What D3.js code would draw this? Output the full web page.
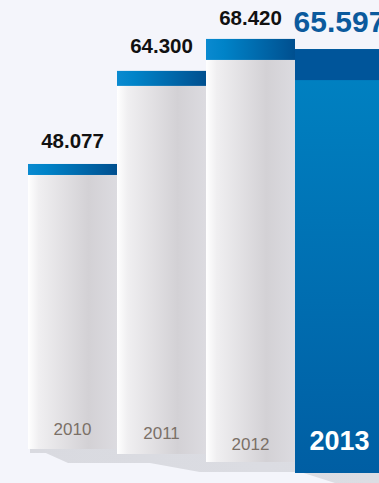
<!DOCTYPE html>
<html>
<head>
	<meta charset="utf-8">
	<script src="https://cdnjs.cloudflare.com/ajax/libs/d3/7.8.5/d3.min.js" charset="utf-8"></script>
	<style>
		body {
		  margin: 0;
		  background: #f4f5fb;
		  font-family: 'Liberation Sans', Arial, sans-serif;
		}
		.value { font-weight: bold; text-anchor: middle; fill: #111; }
		.year { text-anchor: middle; fill: #7b7067; }
	</style>
</head>
<body>
<div id="chart"></div>
<script>

//Data
var years = ["2010", "2011", "2012", "2013"];
var values = [48.077, 64.300, 68.420, 65.597];
var labels = ["48.077", "64.300", "68.420", "65.597"];

//Perspective layout (each bar stands a little nearer than the last)
var baseY = [449, 454, 462, 473],
    depth = [1, 1.005, 1.043, 1.09],
    capH = [11, 15, 21, 31],
    valueGap = [16, 18, 14, 17],
    yearGap = [14, 15, 12, 23];

var width = 379, height = 483;

var svg = d3.select("#chart")
	.append("svg")
	.attr("width", width)
	.attr("height", height)
	.style("display", "block");

///////////////////////////////////////////////////
////////////////// Scales /////////////////////////
///////////////////////////////////////////////////

var x = d3.scaleBand()
	.domain(years)
	.range([28, 28 + 4 * 89])
	.padding(0);

var h = d3.scaleLinear()
	.domain([0, 70])
	.range([0, 415]);

function barTop(i) { return baseY[i] - h(values[i]) * depth[i]; }

///////////////////////////////////////////////////
//////////////// Gradients ////////////////////////
///////////////////////////////////////////////////

var defs = svg.append("defs");

function grad(id, x2, y2, stops) {
	defs.append("linearGradient")
		.attr("id", id)
		.attr("x1", "0%").attr("y1", "0%")
		.attr("x2", x2).attr("y2", y2)
		.selectAll("stop")
		.data(stops)
		.enter().append("stop")
		.attr("offset", function(d) { return d[0]; })
		.attr("stop-color", function(d) { return d[1]; });
}

grad("body", "100%", "0%", [["0%", "#ffffff"], ["12%", "#f0eff1"], ["68%", "#d3d1d5"], ["100%", "#dcdbe0"]]);
grad("cap", "100%", "0%", [["0%", "#0a8ad0"], ["20%", "#0083c8"], ["100%", "#004f8f"]]);
grad("blue", "0%", "100%", [["0%", "#0083c3"], ["100%", "#005ea3"]]);
grad("shade", "100%", "0%", [["0%", "#d9dae0"], ["100%", "#dcdde3"]]);

///////////////////////////////////////////////////
////////////////// Floor shadow ///////////////////
///////////////////////////////////////////////////

var bw = x.bandwidth();
var slant = [[0.2, 0.45], [0.37, 0.93], [1.06, 1.45]];
var pts = [[x(years[0]) + 2, baseY[0]], [x(years[0]) + 2, baseY[0] + 4]];
var level = baseY[0] + 4;
for (var i = 0; i < 3; i++) {
	var x0 = x(years[i]);
	var floor = baseY[i + 1] + (i == 0 ? 9 : 10);
	if (i == 2) floor = height;
	pts.push([x0 + slant[i][0] * bw, level]);
	pts.push([x0 + slant[i][1] * bw, floor]);
	level = floor;
}
pts.push([width, height], [width, baseY[0]]);

svg.append("path")
	.attr("d", d3.line()(pts) + "Z")
	.style("fill", "url(#shade)");

///////////////////////////////////////////////////
////////////////// Bars ///////////////////////////
///////////////////////////////////////////////////

var bars = svg.selectAll(".bar")
	.data(years)
	.enter().append("g")
	.attr("class", "bar");

bars.append("rect")
	.attr("x", function(d) { return x(d); })
	.attr("y", function(d, i) { return barTop(i); })
	.attr("width", bw)
	.attr("height", function(d, i) { return baseY[i] - barTop(i); })
	.style("fill", function(d, i) { return i == 3 ? "url(#blue)" : "url(#body)"; });

bars.append("rect")
	.attr("x", function(d) { return x(d); })
	.attr("y", function(d, i) { return barTop(i); })
	.attr("width", bw)
	.attr("height", function(d, i) { return capH[i]; })
	.style("fill", function(d, i) { return i == 3 ? "#00559a" : "url(#cap)"; });

///////////////////////////////////////////////////
////////////////// Labels /////////////////////////
///////////////////////////////////////////////////

bars.append("text")
	.attr("class", "value")
	.attr("x", function(d) { return x(d) + bw / 2; })
	.attr("y", function(d, i) { return barTop(i) - valueGap[i]; })
	.style("font-size", function(d, i) { return i == 3 ? "30px" : "20.5px"; })
	.style("fill", function(d, i) { return i == 3 ? "#0b5a9d" : "#111"; })
	.text(function(d, i) { return labels[i]; });

bars.append("text")
	.attr("class", "year")
	.attr("x", function(d) { return x(d) + bw / 2; })
	.attr("y", function(d, i) { return baseY[i] - yearGap[i]; })
	.style("font-size", function(d, i) { return i == 3 ? "27px" : "17px"; })
	.style("font-weight", function(d, i) { return i == 3 ? "bold" : "normal"; })
	.style("fill", function(d, i) { return i == 3 ? "#ffffff" : "#7b7067"; })
	.text(function(d) { return d; });

</script>
</body>
</html>
